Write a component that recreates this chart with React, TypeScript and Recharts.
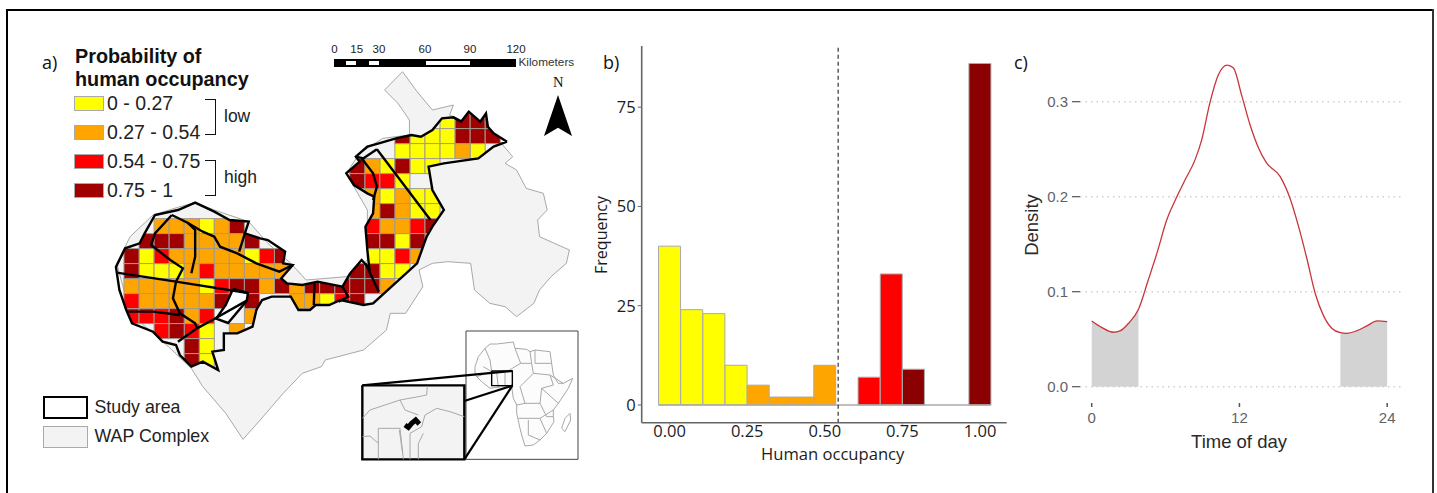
import React from 'react';
import {
  Area,
  Bar,
  Cell,
  ComposedChart,
  Line,
  ReferenceLine,
  Scatter,
  ScatterChart,
  XAxis,
  YAxis
} from 'recharts';

type Pt = [number, number];

// panel a: occupancy classes by grid column / row
const yellowCells: Pt[] = [
  [20, -1], [18, 0], [19, 0], [20, 0], [17, 1], [18, 1], [19, 1], [20, 1], [22, 1], [16, 2], [18, 2], [19, 2],
  [17, 3], [16, 4], [18, 4], [19, 4], [18, 5], [19, 5], [17, 7], [15, 8], [16, 8], [16, 9], [17, 9],
  [4, 6], [0, 8], [7, 8], [0, 9], [1, 9], [2, 9], [4, 10], [12, 11], [4, 13], [4, 14], [4, 15]
];
const orangeCells: Pt[] = [
  [21, 1], [15, 2], [15, 4], [17, 4], [15, 5], [17, 5], [16, 6], [17, 6], [19, 7], [18, 8], [16, 10],
  [1, 6], [2, 6], [3, 6], [5, 6], [3, 7], [4, 7], [5, 7], [6, 7], [2, 8], [3, 8], [4, 8], [5, 8], [6, 8],
  [3, 9], [5, 9], [6, 9], [7, 9], [8, 9], [9, 9], [-1, 10], [0, 10], [1, 10], [2, 10], [3, 10], [8, 10],
  [10, 10], [13, 10], [0, 11], [1, 11], [2, 11], [3, 11], [4, 11], [10, 11], [11, 11], [3, 12], [7, 12], [6, 13]
];
const redCells: Pt[] = [
  [15, 3], [16, 3], [15, 6], [18, 6], [17, 8], [1, 8], [8, 8], [4, 9], [5, 10], [-1, 11], [13, 11],
  [-1, 12], [0, 12], [1, 12], [4, 12], [1, 13], [3, 13]
];
const darkRedCells: Pt[] = [
  [21, -1], [22, -1], [23, -1], [17, 0], [21, 0], [22, 0], [23, 0], [14, 2], [17, 2], [14, 3], [19, 6], [16, 5],
  [15, 7], [16, 7], [18, 7], [14, 9], [15, 9], [13, 10], [14, 10], [15, 10], [14, 11], [6, 6], [0, 7], [1, 7],
  [2, 7], [7, 7], [-1, 8], [9, 8], [-1, 9], [6, 10], [7, 10], [9, 10], [11, 10], [12, 10], [5, 11], [7, 11],
  [2, 12], [2, 13], [3, 14], [3, 15]
];

// panel a: outlines, in map units
const wapOutline: Pt[] = [
  [1052, 125], [1090, 185], [1130, 240], [1185, 225], [1175, 255], [1290, 310], [1310, 340], [1340, 380], [1320, 400],
  [1350, 420], [1375, 475], [1420, 490], [1430, 540], [1405, 570], [1410, 620], [1488, 660], [1480, 700],
  [1440, 740], [1410, 780], [1395, 820], [1350, 860], [1320, 830], [1280, 820], [1240, 780], [1230, 700],
  [1170, 695], [1130, 700], [1095, 720], [1105, 770], [1060, 850], [1020, 850], [1010, 900], [950, 960],
  [850, 990], [840, 1010], [790, 1030], [740, 1090], [680, 1170], [635, 1228], [590, 1150], [530, 1070],
  [500, 1015], [440, 950], [340, 850], [305, 700], [340, 620], [400, 555], [470, 530], [510, 518], [560, 540],
  [650, 575], [700, 640], [760, 700], [800, 750], [905, 740], [960, 690], [960, 540], [905, 430], [940, 370],
  [1000, 325], [1070, 315], [1070, 270], [1040, 220], [1005, 180], [1052, 125]
];
const studyOutline: Pt[] = [
  [1325, 335], [1290, 310], [1275, 290], [1270, 250], [1255, 275], [1225, 245], [1205, 275], [1185, 262],
  [1155, 265], [1130, 300], [1100, 320], [1075, 315], [1035, 325], [990, 340], [960, 350], [930, 380],
  [940, 395], [905, 430], [925, 465], [960, 490], [978, 500], [975, 550], [955, 590], [960, 660], [965, 715],
  [945, 690], [915, 730], [895, 770], [830, 755], [790, 765], [750, 760], [735, 745], [765, 705], [740, 700],
  [745, 665], [700, 630], [680, 625], [640, 610], [650, 575], [600, 570], [560, 545], [510, 518], [465, 540],
  [405, 555], [378, 610], [365, 640], [327, 655], [303, 711], [312, 780], [330, 840], [345, 880], [400, 905],
  [425, 935], [460, 945], [470, 975], [500, 1010], [530, 995], [570, 1020], [555, 965], [585, 960], [585, 910],
  [620, 910], [660, 890], [670, 840], [685, 810], [710, 800], [760, 800], [780, 840], [810, 840], [825, 825],
  [860, 825], [890, 810], [950, 825], [975, 820], [1090, 700], [1115, 620], [1130, 590], [1160, 540],
  [1130, 480], [1120, 410], [1160, 400], [1250, 385], [1290, 350], [1325, 335]
];
const lakeOutline: Pt[] = [
  [609, 777], [648, 789], [645, 812], [596, 879], [565, 866], [590, 825], [609, 777]
];
const studyBorders: Pt[][] = [
  [[305, 728], [460, 755], [648, 789]],
  [[449, 555], [405, 610], [395, 645], [445, 690], [478, 715], [460, 755], [452, 805], [470, 850], [510, 880], [515, 895]],
  [[449, 555], [490, 578], [510, 600], [510, 680], [500, 730]],
  [[490, 578], [530, 605], [560, 620], [575, 650], [620, 670], [670, 700], [730, 725], [765, 705]],
  [[640, 610], [625, 665]],
  [[335, 845], [400, 845], [470, 855]],
  [[465, 935], [515, 895], [555, 870], [645, 812]],
  [[822, 760], [820, 825]],
  [[955, 700], [990, 785]],
  [[895, 770], [910, 800], [885, 815]],
  [[945, 385], [975, 430], [985, 470], [975, 510]],
  [[985, 358], [1125, 570]],
  [[930, 380], [950, 385], [985, 358]]
];

// inset maps, in inset units
const africaOutline: Pt[] = [
  [375, 140], [385, 110], [405, 85], [420, 72], [440, 72], [490, 66], [495, 85], [530, 88], [540, 95], [555, 90], [600, 95],
  [605, 130], [610, 165], [625, 190], [640, 190], [668, 175], [655, 205], [625, 250], [610, 270], [610, 290], [612, 305], [590, 340],
  [570, 360], [550, 375], [525, 378], [515, 345], [510, 325], [500, 280], [500, 255], [490, 235], [485, 200], [455, 200], [420, 205],
  [395, 185], [375, 165], [375, 140]
];
const madagascar: Pt[] = [[660, 280], [662, 300], [645, 335], [635, 325], [645, 295], [660, 280]];
const africaBorders: Pt[][] = [
  [[405, 85], [420, 120], [425, 155]],
  [[495, 85], [512, 130], [470, 155]],
  [[555, 90], [555, 130], [605, 130]],
  [[512, 130], [545, 130], [550, 160], [510, 200]],
  [[550, 160], [600, 165], [610, 195], [575, 205], [570, 250]],
  [[510, 200], [525, 250], [500, 255]],
  [[525, 250], [570, 250], [590, 290], [610, 290]],
  [[505, 295], [570, 295], [590, 340]],
  [[535, 300], [535, 345], [570, 360]],
  [[425, 155], [380, 170]],
  [[440, 155], [445, 205]],
  [[465, 155], [465, 200]],
  [[575, 205], [625, 250]],
  [[600, 165], [640, 190]],
  [[540, 95], [545, 130]],
  [[570, 295], [610, 270]],
  [[400, 140], [425, 155]]
];
const detailBorders: Pt[][] = [
  [[37, 295], [60, 270], [90, 260], [150, 240], [195, 232], [230, 225], [232, 198]],
  [[150, 240], [165, 270], [205, 285]],
  [[215, 320], [225, 285], [260, 265], [300, 275], [343, 290]],
  [[85, 418], [85, 325], [150, 325], [160, 418]],
  [[148, 330], [158, 400]],
  [[180, 418], [180, 340], [215, 320]],
  [[37, 350], [60, 348], [85, 370]],
  [[205, 418], [205, 370], [220, 340]]
];
const detailStudy: Pt[] = [[165, 315], [175, 322], [185, 310], [197, 300], [208, 312]];
const detailFrame: Pt[] = [[37, 196], [343, 196], [343, 418], [37, 418], [37, 196]];
const africaFrame: Pt[] = [[348, 33], [684, 33], [684, 418], [348, 418], [348, 33]];
const africaBox: Pt[] = [[425, 153], [487, 153], [487, 197], [425, 197], [425, 153]];
const zoomLines: Pt[][] = [
  [[37, 196], [487, 153]],
  [[343, 243], [487, 197]],
  [[343, 418], [487, 197]]
];

// panel b: histogram
const binCentres = [0, 0.0714, 0.1429, 0.2143, 0.2857, 0.3571, 0.4286, 0.5, 0.5714, 0.6429, 0.7143, 0.7857, 0.8571, 0.9286, 1];
const binCounts = [40, 24, 23, 10, 5, 2, 2, 10, 0, 7, 33, 9, 0, 0, 86];
const binColors = ['#ffff00', '#ffff00', '#ffff00', '#ffff00', '#ffa500', '#ffa500', '#ffa500', '#ffa500', '#ffa500', '#ff0000', '#ff0000', '#8b0000', '#8b0000', '#8b0000', '#8b0000'];

// panel c: density over the day
const hours = [0, 0.8, 1.76, 2.3, 3, 3.8, 4.6, 5.3, 6.1, 6.8, 7.6, 8.4, 8.94, 9.6, 10.3, 11, 11.5, 12.2, 12.9, 13.55, 14.2, 15.3, 16.1, 16.8, 17.5, 18.15, 18.8, 19.5, 20.2, 20.7, 21.5, 22.35, 23.2, 24];
const density = [0.0692, 0.0625, 0.0573, 0.0587, 0.0668, 0.0815, 0.1125, 0.1406, 0.1757, 0.1968, 0.218, 0.239, 0.26, 0.2988, 0.3286, 0.3385, 0.3357, 0.3058, 0.2742, 0.2513, 0.2355, 0.2214, 0.1986, 0.1687, 0.1336, 0.0984, 0.0756, 0.0615, 0.0569, 0.0562, 0.0587, 0.064, 0.0692, 0.0685];
const DAWN_END = 3.8;
const DUSK_START = 20.2;

const legendRows = [
  { label: '0 - 0.27', color: '#ffff00', top: 96 },
  { label: '0.27 - 0.54', color: '#ffa500', top: 125 },
  { label: '0.54 - 0.75', color: '#ff0000', top: 154 },
  { label: '0.75 - 1', color: '#a00000', top: 183 }
];
const scaleLabels = [
  { label: '0', x: 334.5 }, { label: '15', x: 356.7 }, { label: '30', x: 379 },
  { label: '60', x: 425 }, { label: '90', x: 470 }, { label: '120', x: 516 }
];

const ARIAL = '"Liberation Sans", Arial, sans-serif';
const SEGOE = '"Open Sans", "Noto Sans", sans-serif';

const toPts = (list: Pt[]) => list.map(([x, y]) => ({ x, y }));
const noDot = () => <g />;

const histData = binCentres.map((center, i) => ({ center, count: binCounts[i] }));
const densityData = hours.map((h, i) => ({
  h,
  density: density[i],
  dawn: h <= DAWN_END ? density[i] : undefined,
  dusk: h >= DUSK_START ? density[i] : undefined
}));

const gridShape = (fill: string) => (props: any) => (
  <rect
    x={props.cx - 7.5}
    y={props.cy - 7.5}
    width={15.05}
    height={15}
    fill={fill}
    stroke="#a09a90"
    strokeWidth={1}
    clipPath="url(#study-clip)"
  />
);

const cellSeries = [
  { cells: yellowCells, color: '#ffff00' },
  { cells: orangeCells, color: '#ffa500' },
  { cells: redCells, color: '#ff0000' },
  { cells: darkRedCells, color: '#a00000' }
];

const Txt: React.FC<{ x: number; y: number; size: number; font?: string; bold?: boolean; color?: string; children: React.ReactNode }> = ({
  x, y, size, font = ARIAL, bold, color = '#111', children
}) => (
  <div
    style={{
      position: 'absolute', left: x, top: y, transform: 'translateY(-50%)', fontFamily: font, fontSize: size,
      fontWeight: bold ? 700 : 400, color, whiteSpace: 'nowrap', lineHeight: 1
    }}
  >
    {children}
  </div>
);

const MapPanel = () => (
  <div style={{ position: 'absolute', left: 0, top: 30 }}>
    <ScatterChart width={600} height={450} margin={{ top: 0, right: 0, bottom: 0, left: 0 }}>
      <XAxis xAxisId="map" type="number" dataKey="x" domain={[0, 1568]} hide allowDataOverflow />
      <YAxis yAxisId="map" type="number" dataKey="y" domain={[0, 1350]} reversed hide allowDataOverflow />
      <XAxis xAxisId="grid" type="number" dataKey="x" domain={[-9.236, 30.63]} hide allowDataOverflow />
      <YAxis yAxisId="grid" type="number" dataKey="y" domain={[-6.573, 23.427]} reversed hide allowDataOverflow />
      <Scatter
        xAxisId="map"
        yAxisId="map"
        data={toPts(wapOutline)}
        shape={noDot}
        line={{ stroke: '#a8a8a8', strokeWidth: 1, fill: '#f3f3f3' }}
        isAnimationActive={false}
      />
      {/* the same outline gives the clip for the grid, through the axis scales */}
      <Scatter
        xAxisId="map"
        yAxisId="map"
        data={toPts(studyOutline)}
        shape={noDot}
        line={(p: any) => (
          <clipPath id="study-clip">
            <polygon points={(p.points || []).map((q: any) => `${q.x},${q.y}`).join(' ')} />
          </clipPath>
        )}
        isAnimationActive={false}
      />
      {cellSeries.map(s => (
        <Scatter
          key={s.color}
          xAxisId="grid"
          yAxisId="grid"
          data={s.cells.map(([k, r]) => ({ x: k + 0.5, y: r + 0.5 }))}
          shape={gridShape(s.color)}
          isAnimationActive={false}
        />
      ))}
      <Scatter
        xAxisId="map"
        yAxisId="map"
        data={toPts(lakeOutline)}
        shape={noDot}
        line={{ stroke: '#000', strokeWidth: 2.4, fill: '#fff' }}
        isAnimationActive={false}
      />
      <Scatter
        xAxisId="map"
        yAxisId="map"
        data={toPts(studyOutline)}
        shape={noDot}
        line={{ stroke: '#000', strokeWidth: 2.4, fill: 'none' }}
        isAnimationActive={false}
      />
      {studyBorders.map((b, i) => (
        <Scatter
          key={i}
          xAxisId="map"
          yAxisId="map"
          data={toPts(b)}
          shape={noDot}
          line={{ stroke: '#000', strokeWidth: 2.4, fill: 'none' }}
          isAnimationActive={false}
        />
      ))}
    </ScatterChart>
  </div>
);

const InsetPanel = () => {
  const thin = { stroke: '#a8a8a8', strokeWidth: 1, fill: 'none' };
  const thick = { stroke: '#000', strokeWidth: 2.2, fill: 'none' };
  const layers: { pts: Pt[]; line: any }[] = [
    { pts: africaFrame, line: { stroke: '#444', strokeWidth: 1, fill: '#fff' } },
    { pts: africaOutline, line: { stroke: '#a8a8a8', strokeWidth: 1, fill: '#fcfcfc' } },
    { pts: madagascar, line: thin },
    ...africaBorders.map(pts => ({ pts, line: thin })),
    { pts: africaBox, line: { stroke: '#000', strokeWidth: 1.4, fill: 'none' } },
    ...zoomLines.map(pts => ({ pts, line: thick })),
    { pts: detailFrame, line: { stroke: '#000', strokeWidth: 2.4, fill: '#f3f3f3' } },
    ...detailBorders.map(pts => ({ pts, line: thin })),
    { pts: detailStudy, line: { stroke: '#000', strokeWidth: 5, fill: 'none' } }
  ];
  return (
    <div style={{ position: 'absolute', left: 350, top: 320 }}>
      <ScatterChart width={240} height={150} margin={{ top: 0, right: 0, bottom: 0, left: 0 }}>
        <XAxis type="number" dataKey="x" domain={[0, 720]} hide allowDataOverflow />
        <YAxis type="number" dataKey="y" domain={[0, 450]} reversed hide allowDataOverflow />
        {layers.map((l, i) => (
          <Scatter key={i} data={toPts(l.pts)} shape={noDot} line={l.line} isAnimationActive={false} />
        ))}
      </ScatterChart>
    </div>
  );
};

const MapDecor = () => (
  <>
    <Txt x={42} y={62} size={18} font={SEGOE}>a)</Txt>
    <Txt x={75} y={57} size={19.8} bold>Probability of</Txt>
    <Txt x={75} y={80} size={19.8} bold>human occupancy</Txt>
    {legendRows.map(r => (
      <React.Fragment key={r.label}>
        <div
          style={{
            position: 'absolute', left: 73.5, top: r.top, width: 28, height: 13, background: r.color,
            border: '1px solid #aaa'
          }}
        />
        <Txt x={107} y={r.top + 8} size={19.5} color="#222">{r.label}</Txt>
      </React.Fragment>
    ))}
    <div style={{ position: 'absolute', left: 205, top: 99, width: 10, height: 34, borderTop: '1.5px solid #111', borderRight: '1.5px solid #111', borderBottom: '1.5px solid #111' }} />
    <div style={{ position: 'absolute', left: 205, top: 160, width: 10, height: 34, borderTop: '1.5px solid #111', borderRight: '1.5px solid #111', borderBottom: '1.5px solid #111' }} />
    <Txt x={224} y={117} size={17.5} color="#222">low</Txt>
    <Txt x={224} y={178} size={17.5} color="#222">high</Txt>

    <div style={{ position: 'absolute', left: 334, top: 59, width: 182, height: 8, background: '#000' }} />
    <div style={{ position: 'absolute', left: 346, top: 61, width: 10, height: 4, background: '#fff' }} />
    <div style={{ position: 'absolute', left: 369, top: 61, width: 10, height: 4, background: '#fff' }} />
    <div style={{ position: 'absolute', left: 426, top: 61, width: 44, height: 4, background: '#fff' }} />
    {scaleLabels.map(s => (
      <div
        key={s.label}
        style={{
          position: 'absolute', left: s.x, top: 50, transform: 'translate(-50%,-50%)', fontFamily: ARIAL,
          fontSize: 11.5, lineHeight: 1, color: '#222'
        }}
      >
        {s.label}
      </div>
    ))}
    <Txt x={518.5} y={63} size={11.8} color="#333">Kilometers</Txt>

    <Txt x={553} y={82} size={14.5} font='"Liberation Serif", serif'>N</Txt>
    <div
      style={{
        position: 'absolute', left: 544, top: 95, width: 28, height: 41, background: '#000',
        clipPath: 'polygon(50% 0, 100% 100%, 50% 80%, 0 100%)'
      }}
    />

    <div style={{ position: 'absolute', left: 43, top: 396, width: 41, height: 19, border: '2.5px solid #000' }} />
    <Txt x={94.5} y={408} size={17.8} color="#222">Study area</Txt>
    <div style={{ position: 'absolute', left: 43, top: 426, width: 43, height: 20, background: '#f3f3f3', border: '1px solid #aaa' }} />
    <Txt x={94.5} y={437} size={17.8} color="#222">WAP Complex</Txt>
  </>
);

const HistogramPanel = () => (
  <div style={{ position: 'absolute', left: 590, top: 30 }}>
    <ComposedChart
      width={420}
      height={430}
      data={histData}
      barCategoryGap={0}
      barGap={0}
      margin={{ top: 16, right: 3.3, bottom: 0, left: 0 }}
    >
      <XAxis
        type="number"
        dataKey="center"
        domain={[-0.09, 1.086]}
        ticks={[0, 0.25, 0.5, 0.75, 1]}
        tickFormatter={(v: number) => v.toFixed(2)}
        allowDataOverflow
        height={37.3}
        tickSize={2}
        tickMargin={1}
        axisLine={{ stroke: '#666', strokeWidth: 1.6 }}
        tickLine={{ stroke: '#888' }}
        tick={{ fill: '#1c1c1c', fontSize: 16.5, fontFamily: SEGOE }}
      />
      <YAxis
        type="number"
        dataKey="count"
        domain={[-4.46, 90.4]}
        ticks={[0, 25, 50, 75]}
        allowDataOverflow
        width={51.7}
        tickSize={4}
        tickMargin={2}
        axisLine={{ stroke: '#666', strokeWidth: 1.6 }}
        tickLine={{ stroke: '#666' }}
        tick={{ fill: '#1c1c1c', fontSize: 16.5, fontFamily: SEGOE }}
      />
      <ReferenceLine
        segment={[{ x: -0.0357, y: 0 }, { x: 1.0357, y: 0 }]}
        stroke="#aaa"
        strokeWidth={1.3}
      />
      <Bar dataKey="count" stroke="#aaa" strokeWidth={1} isAnimationActive={false}>
        {histData.map((_, index) => (
          <Cell key={`bin-${index}`} fill={binColors[index]} />
        ))}
      </Bar>
      <ReferenceLine x={0.543} stroke="#333" strokeWidth={1.2} strokeDasharray="4 3" />
    </ComposedChart>
  </div>
);

const DensityPanel = () => (
  <div style={{ position: 'absolute', left: 1010, top: 40 }}>
    <ComposedChart
      width={420}
      height={400}
      data={densityData}
      margin={{ top: 10, right: 28.3, bottom: 0, left: 0 }}
    >
      <XAxis
        type="number"
        dataKey="h"
        domain={[-0.95, 25.18]}
        ticks={[0, 12, 24]}
        allowDataOverflow
        height={37}
        axisLine={false}
        tickSize={4}
        tickMargin={5}
        tickLine={{ stroke: '#555', strokeWidth: 1.5 }}
        tick={{ fill: '#5f6368', fontSize: 15, fontFamily: ARIAL }}
      />
      <YAxis
        type="number"
        domain={[-0.01716, 0.3544]}
        ticks={[0, 0.1, 0.2, 0.3]}
        allowDataOverflow
        width={70}
        axisLine={false}
        tickSize={8}
        tickMargin={4}
        tickFormatter={(v: number) => v.toFixed(1)}
        tickLine={{ stroke: '#555', strokeWidth: 1.2 }}
        tick={{ fill: '#5f6368', fontSize: 15, fontFamily: ARIAL }}
      />
      {[0, 0.1, 0.2, 0.3].map(v => (
        <ReferenceLine key={v} y={v} stroke="#cfcfcf" strokeWidth={1.4} strokeDasharray="1.5 4" />
      ))}
      <Area dataKey="dawn" type="monotone" stroke="none" fill="#d3d3d3" fillOpacity={1} connectNulls={false} isAnimationActive={false} dot={false} />
      <Area dataKey="dusk" type="monotone" stroke="none" fill="#d3d3d3" fillOpacity={1} connectNulls={false} isAnimationActive={false} dot={false} />
      <Line dataKey="density" type="monotone" stroke="#c8343c" strokeWidth={1.3} dot={false} isAnimationActive={false} />
    </ComposedChart>
  </div>
);

const rotated = (x: number, y: number, size: number, font: string, color: string, text: string) => (
  <div
    style={{
      position: 'absolute', left: x, top: y, transform: 'translate(-50%,-50%) rotate(-90deg)', fontFamily: font,
      fontSize: size, lineHeight: 1, color, whiteSpace: 'nowrap'
    }}
  >
    {text}
  </div>
);

const centred = (x: number, y: number, size: number, font: string, color: string, text: string) => (
  <div
    style={{
      position: 'absolute', left: x, top: y, transform: 'translate(-50%,-50%)', fontFamily: font,
      fontSize: size, lineHeight: 1, color, whiteSpace: 'nowrap'
    }}
  >
    {text}
  </div>
);

export default function App() {
  return (
    <div style={{ position: 'absolute', left: 0, top: 0, width: 1437, height: 493, overflow: 'hidden', background: '#fff' }}>
      <div style={{ position: 'absolute', left: 6, top: 9, width: 1427, height: 2, background: '#000' }} />
      <div style={{ position: 'absolute', left: 6, top: 9, width: 2, height: 484, background: '#000' }} />
      <div style={{ position: 'absolute', left: 1432, top: 9, width: 2, height: 484, background: '#333' }} />
      <MapPanel />
      <InsetPanel />
      <MapDecor />
      <HistogramPanel />
      <Txt x={603} y={62} size={18} font={SEGOE}>b)</Txt>
      {rotated(601, 235, 16, SEGOE, '#1c1c1c', 'Frequency')}
      {centred(832.7, 454, 16.6, SEGOE, '#1c1c1c', 'Human occupancy')}
      <DensityPanel />
      <Txt x={1014} y={62} size={18} font={SEGOE}>c)</Txt>
      {rotated(1032, 225, 18.5, ARIAL, '#2a2a2a', 'Density')}
      {centred(1239, 442, 18.5, ARIAL, '#2a2a2a', 'Time of day')}
    </div>
  );
}
